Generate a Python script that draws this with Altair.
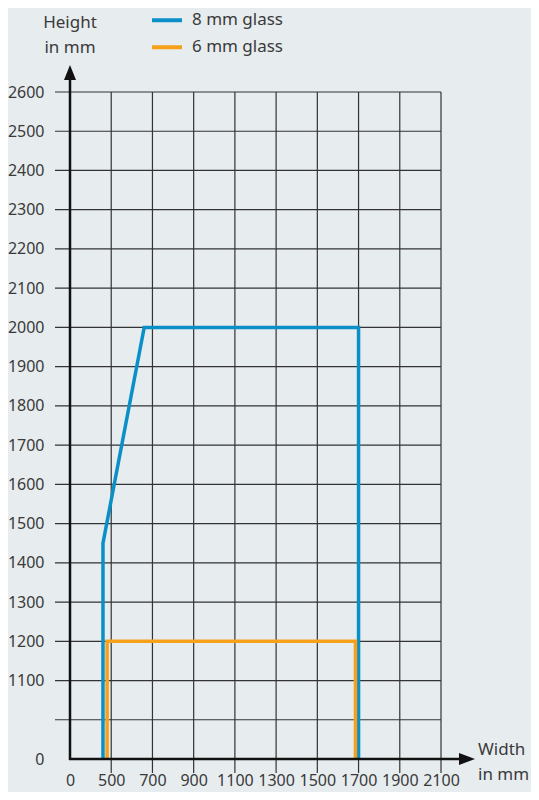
import altair as alt
import pandas as pd

# ---------------- data ----------------
series_names = ["8 mm glass", "6 mm glass"]
blue_x = [460, 460, 660, 1700, 1700]
blue_y = [0, 1450, 2000, 2000, 0]
orange_x = [480, 480, 1685, 1685]
orange_y = [0, 1200, 1200, 0]

x_ticks = [0, 500, 700, 900, 1100, 1300, 1500, 1700, 1900, 2100]
y_ticks = [0, 1000, 1100, 1200, 1300, 1400, 1500, 1600, 1700, 1800,
           1900, 2000, 2100, 2200, 2300, 2400, 2500, 2600]
y_title = ["Height", "in mm"]
x_title = ["Width", "in mm"]

# ---------------- style ----------------
BG = "#e7ecef"
BLUE = "#0a8fc8"
ORANGE = "#f7a11a"
GRID = "#333333"
TXT = "#3a3a3a"
FONT = "Noto Sans"
FS = 16
FT = 17

W, H = 371, 667
STEP_X = W / 9.0
STEP_Y = H / 17.0

xscale = alt.Scale(domain=[0, 400, 2100], range=[0, STEP_X / 2, W], zero=False, nice=False)
yscale = alt.Scale(domain=[0, 1000, 2600], range=[H, H - STEP_Y, 0], zero=False, nice=False)

xaxis = alt.Axis(values=x_ticks, format="d", domain=False, ticks=False, grid=False, title=None,
                 labelFont=FONT, labelFontSize=FS, labelColor=TXT, labelPadding=13,
                 labelFlush=False, labelOverlap=False)
yaxis = alt.Axis(values=y_ticks, format="d", domain=False, ticks=False, grid=False, title=None,
                 labelExpr="datum.value == 1000 ? '' : datum.label",
                 labelFont=FONT, labelFontSize=FS, labelColor=TXT, labelPadding=26,
                 labelFlush=False, labelOverlap=False)

rows = []
for i, (x, y) in enumerate(zip(blue_x, blue_y)):
    rows.append({"series": series_names[0], "x": x, "y": y, "o": i})
for i, (x, y) in enumerate(zip(orange_x, orange_y)):
    rows.append({"series": series_names[1], "x": x, "y": y, "o": i})
df_lines = pd.DataFrame(rows)
df_h = pd.DataFrame({"y": y_ticks[1:]})
df_v = pd.DataFrame({"x": x_ticks[1:]})
df_one = pd.DataFrame({"a": [0]})

hgrid = alt.Chart(df_h).mark_rule(color=GRID, strokeWidth=1.2).encode(
    y=alt.Y("y:Q", scale=yscale, axis=yaxis),
    x=alt.value(-15), x2=alt.value(W),
)
vgrid = alt.Chart(df_v).mark_rule(color=GRID, strokeWidth=1.2).encode(
    x=alt.X("x:Q", scale=xscale, axis=xaxis),
    y=alt.value(0), y2=alt.value(H + 14),
)

lines = alt.Chart(df_lines).mark_line(strokeWidth=3.5, strokeJoin="miter", strokeCap="butt").encode(
    x=alt.X("x:Q", scale=xscale, axis=xaxis),
    y=alt.Y("y:Q", scale=yscale, axis=yaxis),
    color=alt.Color("series:N", scale=alt.Scale(domain=series_names, range=[BLUE, ORANGE]),
                    legend=alt.Legend(orient="none", legendX=80, legendY=-85, title=None,
                                      symbolType="stroke", symbolSize=900, symbolStrokeWidth=4,
                                      labelFont=FONT, labelFontSize=FT, labelColor=TXT,
                                      clipHeight=26.5, rowPadding=0, padding=0, labelOffset=8)),
    order=alt.Order("o:Q"),
)

yaxis_line = alt.Chart(df_one).mark_rule(color="#111111", strokeWidth=2.5).encode(
    x=alt.value(0), y=alt.value(H + 1), y2=alt.value(-14))
xaxis_line = alt.Chart(df_one).mark_rule(color="#111111", strokeWidth=2.5).encode(
    x=alt.value(-1), x2=alt.value(392), y=alt.value(H))
yarrow = alt.Chart(df_one).mark_point(shape="M0,-1L0.8,1L-0.8,1Z", size=225, filled=True,
                                      color="#111111", opacity=1, strokeWidth=0).encode(
    x=alt.value(0), y=alt.value(-19.5))
xarrow = alt.Chart(df_one).mark_point(shape="M1,0L-1,0.75L-1,-0.75Z", size=256, filled=True,
                                      color="#111111", opacity=1, strokeWidth=0).encode(
    x=alt.value(397), y=alt.value(H))

ytitle = alt.Chart(df_one).mark_text(text=y_title, font=FONT, fontSize=FT, color=TXT,
                                     align="center", baseline="alphabetic", lineHeight=25).encode(
    x=alt.value(0), y=alt.value(-64))
xtitle = alt.Chart(df_one).mark_text(text=x_title, font=FONT, fontSize=FT, color=TXT,
                                     align="left", baseline="alphabetic", lineHeight=25).encode(
    x=alt.value(408), y=alt.value(H - 4))

chart = alt.layer(hgrid, vgrid, lines, yaxis_line, xaxis_line, yarrow, xarrow, ytitle, xtitle).properties(
    width=W, height=H,
    autosize=alt.AutoSizeParams(type="none"),
    padding={"left": 62, "top": 84, "right": 90, "bottom": 33},
    background=BG,
).configure_view(stroke=None)

chart.save("out.html", embed_options={"renderer": "svg", "actions": False})
